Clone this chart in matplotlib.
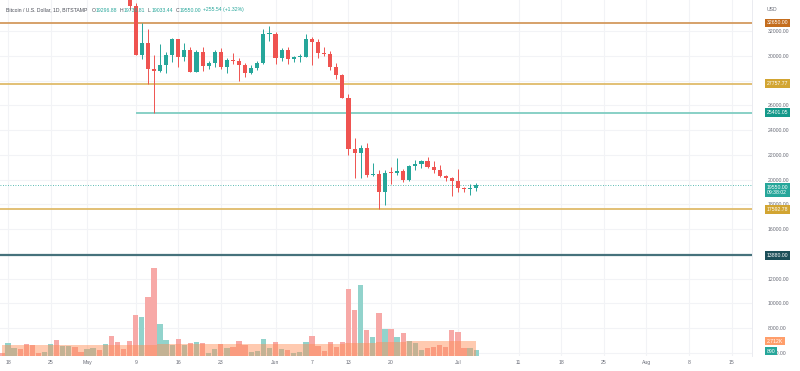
import numpy as np
import matplotlib
matplotlib.use('Agg')
import matplotlib.pyplot as plt

#########################################################
# BTC/USD daily, Bitstamp, 17 Apr .. 4 Jul 2022 (day 0 = 18 Apr)

days = list(range(-1, 78))

opens = [40400, 39700, 40800, 41500, 41370, 40480, 39700, 39450, 39460, 40430,
         38120, 39240, 39740, 38590, 37650, 38470, 38520, 37720, 39690, 36550,
         36010, 35470, 34060, 30080, 31000, 28950, 28800, 29280, 30080, 31330,
         29860, 30430, 28700, 30300, 29200, 29430, 30290, 29100, 29650, 29560,
         29270, 28620, 29020, 29450, 31720, 31790, 29800, 30450, 29700, 29860,
         29910, 31370, 31130, 30200, 30110, 29090, 28420, 26570, 22480, 22130,
         22580, 20380, 20470, 19000, 20620, 20540, 20720, 19970, 21100, 21230,
         21500, 21030, 20730, 20280, 20100, 19900, 19280, 19240, 19296.88]
highs = [40600, 41100, 41750, 42200, 42950, 40800, 39980, 39950, 40600, 40800,
         39450, 40400, 39900, 38800, 38650, 39150, 38640, 40000, 39850, 36650,
         36100, 35500, 34250, 32650, 32170, 30030, 30990, 30300, 31430, 31330,
         31000, 30680, 30500, 30700, 29600, 30450, 30650, 29800, 30200, 29850,
         29380, 29250, 29550, 32200, 32400, 31950, 30650, 30670, 29950, 30150,
         31750, 31540, 31330, 30690, 30380, 29440, 28550, 26900, 23350, 22780,
         22970, 21300, 20760, 20800, 21000, 21700, 20860, 21180, 21550, 21600,
         21850, 21500, 21180, 20400, 20200, 20870, 19420, 19640, 19736.81]
lows = [39550, 38550, 40550, 40850, 39750, 39200, 39300, 39000, 38200, 37750,
        37900, 38880, 38200, 37600, 37400, 38050, 37500, 37680, 35600, 35260,
        34780, 33700, 30050, 29730, 27700, 25401.05, 28650, 28620, 29490, 29100,
        29550, 28660, 28650, 28750, 28950, 29080, 28900, 28630, 29350, 28000,
        28250, 28500, 28850, 29300, 31200, 29320, 29580, 29350, 29500, 29500,
        29890, 29250, 29850, 29950, 28860, 28100, 26560, 21950, 20100, 20100,
        20230, 20280, 17592.78, 17960, 19650, 20350, 19780, 19900, 20750, 20950,
        20970, 20520, 20200, 19850, 18630, 18980, 18980, 18760, 19033.44]
closes = [39700, 40800, 41500, 41370, 40480, 39700, 39450, 39460, 40430, 38120,
          39240, 39740, 38590, 37650, 38470, 38520, 37720, 39690, 36550, 36010,
          35470, 34060, 30080, 31000, 28950, 28800, 29280, 30080, 31330, 29860,
          30430, 28700, 30300, 29200, 29430, 30290, 29100, 29650, 29560, 29270,
          28620, 29020, 29450, 31720, 31790, 29800, 30450, 29700, 29860, 29910,
          31370, 31130, 30200, 30110, 29090, 28420, 26570, 22480, 22130, 22580,
          20380, 20470, 19000, 20550, 20540, 20720, 19970, 21100, 21230, 21500,
          21030, 20730, 20280, 20100, 19900, 19280, 19240, 19294.46, 19550.00]

# volume in thousand BTC
volume = [0.48, 2.41, 1.39, 1.33, 2.11, 1.99, 0.48, 0.72, 2.11, 2.83,
          1.75, 1.81, 1.57, 0.78, 1.33, 1.45, 1.14, 2.23, 3.55, 2.53,
          1.20, 2.65, 7.35, 7.05, 10.72, 15.84, 5.72, 2.83, 2.05, 3.01,
          2.05, 2.29, 2.47, 2.29, 0.48, 1.33, 2.11, 1.45, 1.57, 2.71,
          2.05, 0.78, 0.96, 3.13, 1.51, 2.53, 1.27, 1.14, 0.54, 0.66,
          2.47, 3.55, 1.81, 0.96, 2.47, 1.57, 2.59, 12.05, 8.25, 12.89,
          4.70, 3.49, 7.71, 4.94, 4.94, 3.43, 4.10, 2.65, 2.41, 1.14,
          1.51, 1.63, 1.99, 1.63, 4.70, 4.34, 1.45, 1.45, 1.02]
volume_ma = [1.93, 1.93, 1.93, 1.93, 1.93, 1.93, 1.93, 1.93, 1.95, 1.95,
             1.95, 1.95, 1.95, 1.93, 1.93, 1.93, 1.93, 1.93, 1.93, 1.93,
             1.93, 1.93, 1.93, 1.93, 1.93, 2.05, 2.11, 2.11, 2.11, 2.11,
             2.11, 2.11, 2.11, 2.11, 2.11, 2.11, 2.11, 2.11, 2.11, 2.11,
             2.11, 2.11, 2.11, 2.11, 2.11, 2.17, 2.17, 2.17, 2.17, 2.17,
             2.17, 2.23, 2.23, 2.23, 2.23, 2.23, 2.23, 2.35, 2.35, 2.41,
             2.41, 2.41, 2.47, 2.53, 2.59, 2.59, 2.59, 2.65, 2.65, 2.65,
             2.65, 2.65, 2.71, 2.71, 2.71, 2.71, 2.71, 2.71, 2.71]

tick_days = [0, 7, 13, 21, 28, 35, 44, 50, 56, 63, 74, 84, 91, 98, 105, 112, 119]
tick_labels = ['18', '25', 'May', '9', '16', '23', 'Jun', '7', '13', '20',
               'Jul', '11', '18', '25', 'Aug', '8', '15']

price_ticks = list(range(6000, 32001, 2000))

levels = [32650.00, 27757.77, 25401.05, 17592.78, 13880.00]
level_from = [-2, -2, 21, -2, -2]   # 25401.05 ray starts on 9 May

#########################################################

UP = '#26a69a'
DOWN = '#ef5350'
GRID = '#f2f3f6'
TXT = '#6a6d78'

level_line_colors = ['#d39a5e', '#dfbb6a', '#7fcdc2', '#dfbb6a', '#46727c']
level_box_colors = ['#c46d1e', '#d2a532', '#14998a', '#d2a532', '#1c4f59']
level_lw = [1.3, 1.3, 1.3, 1.3, 1.6]

plt.rcParams['font.family'] = ['Liberation Sans', 'DejaVu Sans']
FS = 3.7
LABEL_X = 1.0 + 15 / 752

fig = plt.figure(figsize=(8, 3.71), dpi=100)
ax = fig.add_axes([0, 15 / 371, 752 / 800, 356 / 371])

o = np.array(opens)
h = np.array(highs)
l = np.array(lows)
c = np.array(closes)
d = np.array(days)
up = c >= o
colors = np.where(up, UP, DOWN)

ax.set_xlim(-1.32, 122.37)
ax.set_ylim(5740, 34505)

# grid
for t in tick_days:
    ax.axvline(t, color=GRID, lw=0.8, zorder=0)
for p in price_ticks:
    ax.axhline(p, color=GRID, lw=0.8, zorder=0)

# levels
for lev, start, lc, lw in zip(levels, level_from, level_line_colors, level_lw):
    ax.hlines(lev, start, 130, color=lc, lw=lw, zorder=2)

# current price line
ax.axhline(closes[-1], color=UP, lw=0.6, ls=(0, (1, 2)), zorder=2)

# candles
ax.vlines(d, l, h, color=colors, lw=0.7, zorder=3)
body = np.maximum(np.abs(c - o), 80)
ax.bar(d, body, bottom=np.minimum(o, c), width=0.68, color=colors, zorder=4)

for s in ['top', 'left', 'bottom']:
    ax.spines[s].set_visible(False)
ax.spines['right'].set_color('#e6e8ee')
ax.spines['right'].set_linewidth(0.6)
ax.set_xticks(tick_days)
ax.set_xticklabels(tick_labels)
ax.tick_params(axis='x', length=0, labelsize=FS, labelcolor=TXT, pad=3)

# volume pane
axv = ax.twinx()
axv.set_ylim(0, 356 / 5.53)
vcol = np.where(up, '#92d3cc', '#f7a9a7')
axv.bar(d, volume, width=0.87, color=vcol, zorder=1)
axv.fill_between(d, 0, volume_ma, step='mid', color='#ff8a50', alpha=0.45, lw=0, zorder=2)
axv.set_yticks([])
for s in axv.spines.values():
    s.set_visible(False)

# price axis on the right (set after twinx, which moves ticks left)
ax.yaxis.tick_right()
ax.set_yticks(price_ticks)
ax.set_yticklabels([f'{p:.2f}' for p in price_ticks])
ax.tick_params(axis='y', which='both', left=False, right=False, labelleft=False,
               labelright=True, length=0, labelsize=FS, labelcolor=TXT, pad=11.5)

# price axis labels (boxes)
tr = ax.get_yaxis_transform()
box_txt = ['32650.00', '27757.77', '25401.05', '17592.78', '13880.00']
for lev, txt, bc in zip(levels, box_txt, level_box_colors):
    ax.text(LABEL_X, lev, txt, transform=tr, fontsize=FS, color='white',
            ha='left', va='center', clip_on=False, zorder=10,
            bbox=dict(boxstyle='square,pad=0.35', fc=bc, ec='none'))
ax.text(LABEL_X, closes[-1], '19550.00\n09:38:02', transform=tr, fontsize=FS,
        color='white', ha='left', va='top', linespacing=1.1, clip_on=False, zorder=10,
        bbox=dict(boxstyle='square,pad=0.35', fc=UP, ec='none'))
ax.text(LABEL_X, 34505 - 10 * 80.8, 'USD', transform=tr, fontsize=FS,
        color=TXT, ha='left', va='center', clip_on=False)

trv = axv.get_yaxis_transform()
axv.text(LABEL_X, 2.712, '2.712K', transform=trv, fontsize=FS, color='white',
         ha='left', va='center', clip_on=False, zorder=10,
         bbox=dict(boxstyle='square,pad=0.35', fc='#ff9e6b', ec='none'))
axv.text(LABEL_X, 0.89, '890', transform=trv, fontsize=FS, color='white',
         ha='left', va='center', clip_on=False, zorder=10,
         bbox=dict(boxstyle='square,pad=0.35', fc=UP, ec='none'))

# header legend
hy = 1 - 10 / 371
fig.text(6 / 800, hy, 'Bitcoin / U.S. Dollar, 1D, BITSTAMP', fontsize=FS, color='#4a4d57', va='center')
for xp, k, v in [(92, 'O', '19296.88'), (120, 'H', '19736.81'), (148, 'L', '19033.44'), (176, 'C', '19550.00')]:
    fig.text(xp / 800, hy, k, fontsize=FS, color='#4a4d57', va='center')
    fig.text((xp + 3.5) / 800, hy, v, fontsize=FS, color=UP, va='center')
fig.text(203 / 800, hy, '+255.54 (+1.32%)', fontsize=FS, color=UP, va='center')

fig.savefig('out.png', dpi=100)
